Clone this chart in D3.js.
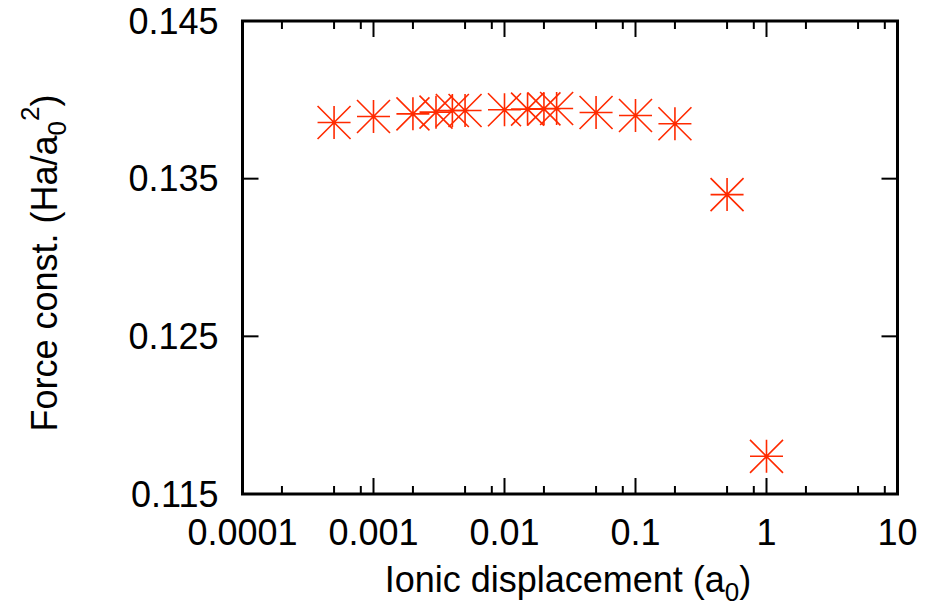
<!DOCTYPE html>
<html>
<head>
<meta charset="utf-8">
<script src="https://cdn.jsdelivr.net/npm/d3@7"></script>
<style>
  body { margin: 0; background: #fff; }
  text { font-family: "Liberation Sans", Arial, Helvetica, sans-serif; fill: #000; }
</style>
</head>
<body>
<div id="chart"></div>
<script>
// data
var displacement = [0.0005, 0.001, 0.002, 0.003, 0.004, 0.005, 0.01, 0.015, 0.02, 0.025, 0.05, 0.1, 0.2, 0.5, 1];
var forceConst = [0.13856, 0.13894, 0.13911, 0.13922, 0.13932, 0.13932, 0.13937, 0.13941, 0.13943, 0.13945, 0.13920, 0.13901, 0.13848, 0.13399, 0.11739];
var xTicks = [0.0001, 0.001, 0.01, 0.1, 1, 10];
var xTickLabels = ["0.0001", "0.001", "0.01", "0.1", "1", "10"];
var yTicks = [0.115, 0.125, 0.135, 0.145];
var yTickLabels = ["0.115", "0.125", "0.135", "0.145"];

var width = 944, height = 607;
var margin = {top: 21, right: 46.5, bottom: 113, left: 242.5};
var w = width - margin.left - margin.right;
var h = height - margin.top - margin.bottom;
var fontSize = 36;

var points = displacement.map((d, i) => ({x: d, y: forceConst[i]}));

// minor ticks at 2, 5, 8 in each decade
var minorTicks = [];
xTicks.slice(0, -1).forEach(d => [2, 5, 8].forEach(m => minorTicks.push(d * m)));

var x = d3.scaleLog().domain([0.0001, 10]).range([0, w]);
var y = d3.scaleLinear().domain([0.115, 0.145]).range([h, 0]);

var svg = d3.select("#chart").append("svg")
  .attr("width", width)
  .attr("height", height);

var g = svg.append("g")
  .attr("transform", "translate(" + margin.left + "," + margin.top + ")");

// x ticks, bottom and top
[0, h].forEach(function(base) {
  var dir = base === 0 ? 1 : -1;
  g.selectAll(null).data(xTicks).enter().append("line")
    .attr("x1", d => x(d)).attr("x2", d => x(d))
    .attr("y1", base).attr("y2", base + dir * 16)
    .attr("stroke", "#000").attr("stroke-width", 2);
  g.selectAll(null).data(minorTicks).enter().append("line")
    .attr("x1", d => x(d)).attr("x2", d => x(d))
    .attr("y1", base).attr("y2", base + dir * 8)
    .attr("stroke", "#000").attr("stroke-width", 2);
});

// y ticks, left and right
[0, w].forEach(function(base) {
  var dir = base === 0 ? 1 : -1;
  g.selectAll(null).data(yTicks).enter().append("line")
    .attr("x1", base).attr("x2", base + dir * 16)
    .attr("y1", d => y(d)).attr("y2", d => y(d))
    .attr("stroke", "#000").attr("stroke-width", 2);
});

// frame
g.append("rect")
  .attr("width", w).attr("height", h)
  .attr("fill", "none")
  .attr("stroke", "#000")
  .attr("stroke-width", 3);

// tick labels
g.selectAll(".xlab").data(xTicks).enter().append("text")
  .attr("class", "xlab")
  .attr("x", d => x(d))
  .attr("y", h + 51)
  .attr("text-anchor", "middle")
  .attr("font-size", fontSize)
  .text((d, i) => xTickLabels[i]);

g.selectAll(".ylab").data(yTicks).enter().append("text")
  .attr("class", "ylab")
  .attr("x", -24)
  .attr("y", d => y(d) + 12.5)
  .attr("text-anchor", "end")
  .attr("font-size", fontSize)
  .text((d, i) => yTickLabels[i]);

// x title
var xt = g.append("text")
  .attr("x", 568 - margin.left)
  .attr("y", 592 - margin.top)
  .attr("text-anchor", "middle")
  .attr("font-size", fontSize);
xt.append("tspan").text("Ionic displacement (a");
xt.append("tspan").attr("font-size", 26).attr("dy", 9).text("0");
xt.append("tspan").attr("dy", -9).text(")");

// y title
var yt = g.append("text")
  .attr("transform", "translate(" + (57 - margin.left) + "," + (263 - margin.top) + ") rotate(-90)")
  .attr("text-anchor", "middle")
  .attr("font-size", fontSize);
yt.append("tspan").text("Force const. (Ha/a");
yt.append("tspan").attr("font-size", 26).attr("dy", 9).text("0");
yt.append("tspan").attr("font-size", 26).attr("dy", -27).text("2");
yt.append("tspan").attr("dy", 18).text(")");

// points: asterisk markers (plus + cross)
var r = 16.5;
var red = "#ff2a00";
var marks = g.selectAll(".pt").data(points).enter().append("g")
  .attr("class", "pt")
  .attr("transform", d => "translate(" + x(d.x) + "," + y(d.y) + ")");
marks.append("path")
  .attr("d", "M" + (-r) + ",0H" + r + "M0," + (-r) + "V" + r +
             "M" + (-r) + "," + (-r) + "L" + r + "," + r +
             "M" + (-r) + "," + r + "L" + r + "," + (-r))
  .attr("fill", "none")
  .attr("stroke", red)
  .attr("stroke-width", 1.6);
</script>
</body>
</html>
